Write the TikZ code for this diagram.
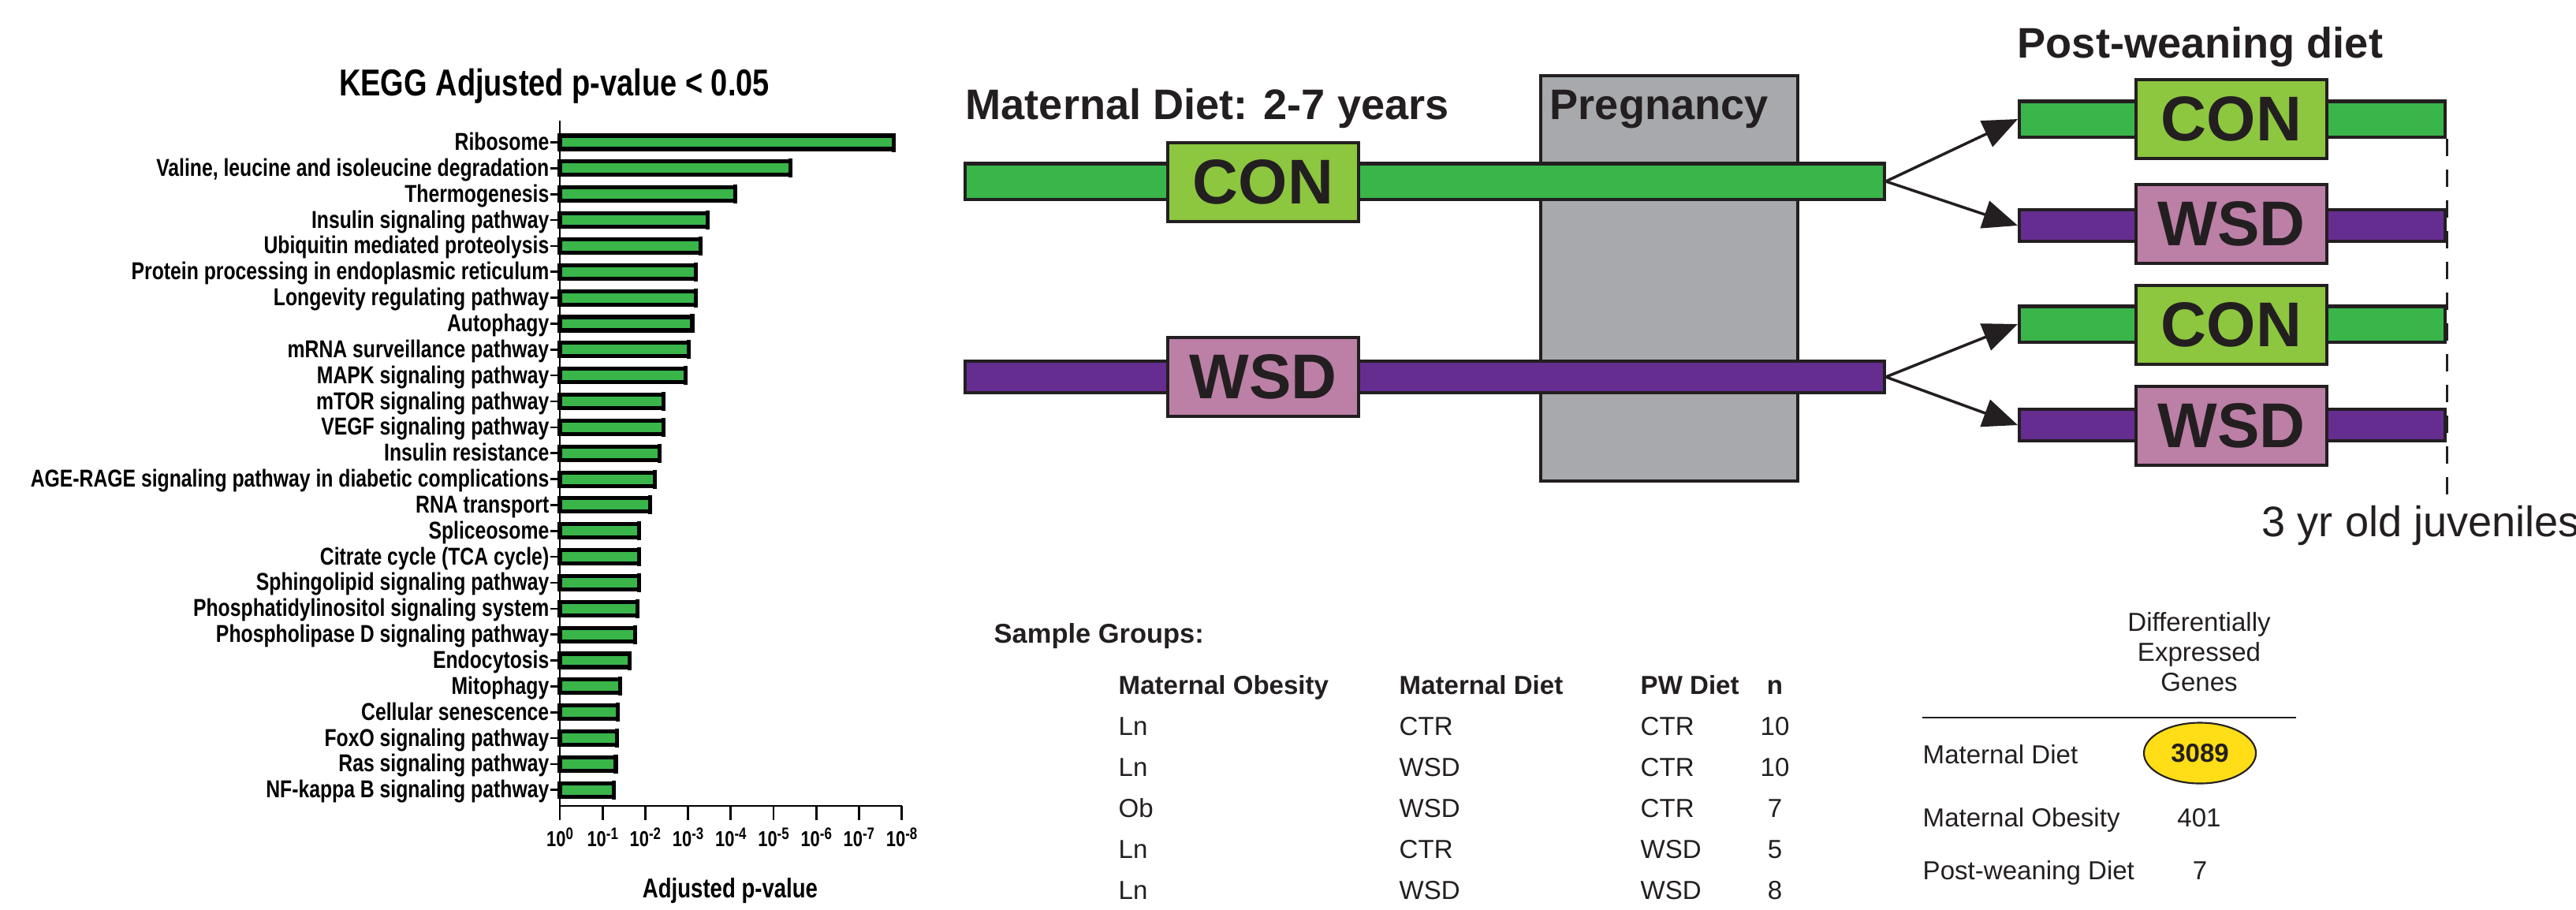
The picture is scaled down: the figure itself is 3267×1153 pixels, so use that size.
\documentclass[tikz,border=0pt]{standalone}
\usepackage{fontspec}
\setmainfont{Liberation Sans}
\newfontfamily\narrowfont[FakeStretch=0.8]{Liberation Sans}
\usetikzlibrary{arrows.meta,shapes.geometric}
\definecolor{BarGreen}{HTML}{39B54A}
\definecolor{ConGreen}{HTML}{8DC63F}
\definecolor{WsdPurple}{HTML}{662D91}
\definecolor{WsdPink}{HTML}{BC7FA6}
\definecolor{PregGray}{HTML}{A7A9AC}
\definecolor{Ink}{HTML}{231F20}
\definecolor{GeneYellow}{HTML}{FFDD17}
\newcommand{\pexp}[1]{10\raisebox{0.32em}{\fontsize{6}{6}\selectfont #1}}

\begin{document}
\begin{tikzpicture}[x=0.01cm, y=-0.01cm,
  klabel/.style={anchor=base east, inner sep=0, font=\narrowfont\bfseries\fontsize{8.8}{9}\selectfont},
  kbar/.style={draw=black, line width=1.45pt, fill=BarGreen},
  kaxis/.style={line width=0.75pt, black},
  ktick/.style={anchor=base, inner sep=0, font=\narrowfont\bfseries\fontsize{7.8}{8}\selectfont},
  ktitle/.style={anchor=base, inner sep=0, font=\narrowfont\bfseries\fontsize{13.5}{14}\selectfont},
  hdr/.style={anchor=base west, inner sep=0, text=Ink, font=\bfseries\fontsize{15.4}{16}\selectfont},
  gbar/.style={draw=Ink, line width=1.15pt, fill=BarGreen, minimum height=0.45cm, inner sep=0, anchor=west},
  pbar/.style={gbar, fill=WsdPurple, minimum height=0.40cm},
  dietbox/.style={draw=Ink, line width=1.15pt, minimum width=2.42cm, minimum height=1cm, inner sep=0, text=Ink, font=\bfseries\fontsize{22.8}{24}\selectfont},
  conbox/.style={dietbox, fill=ConGreen},
  wsdbox/.style={dietbox, fill=WsdPink},
  arr/.style={-{Triangle[length=0.44cm, width=0.36cm]}, line width=1pt, Ink},
  dashline/.style={Ink, line width=1pt, dash pattern=on 0.22cm off 0.17cm},
  sgtxt/.style={anchor=base west, inner sep=0, text=Ink, font=\fontsize{9.4}{10}\selectfont},
  sghead/.style={sgtxt, font=\bfseries\fontsize{9.4}{10}\selectfont},
  degtxt/.style={inner sep=0, text=Ink, font=\fontsize{9.4}{10.8}\selectfont}
]
\useasboundingbox (0,0) rectangle (3267,1153);

\node[ktitle] (ktitle) at (703,121) {KEGG Adjusted p-value < 0.05};
\foreach \lab/\val [count=\i from 0] in {
  Ribosome/7.82, {Valine, leucine and isoleucine degradation}/5.39, Thermogenesis/4.10,
  Insulin signaling pathway/3.46, Ubiquitin mediated proteolysis/3.29,
  Protein processing in endoplasmic reticulum/3.18, Longevity regulating pathway/3.18,
  Autophagy/3.10, mRNA surveillance pathway/3.01, MAPK signaling pathway/2.94,
  mTOR signaling pathway/2.42, VEGF signaling pathway/2.42, Insulin resistance/2.33,
  AGE-RAGE signaling pathway in diabetic complications/2.23, RNA transport/2.12,
  Spliceosome/1.85, Citrate cycle (TCA cycle)/1.85, Sphingolipid signaling pathway/1.85,
  Phosphatidylinositol signaling system/1.81, Phospholipase D signaling pathway/1.77,
  Endocytosis/1.63, Mitophagy/1.41, Cellular senescence/1.36, FoxO signaling pathway/1.33,
  Ras signaling pathway/1.31, NF-kappa B signaling pathway/1.27}{
  \pgfmathsetmacro\y{180.5+\i*32.85}
  \node[klabel] (kl\i) at (697,\y+10) {\lab};
  \draw[kaxis] (698,\y) -- (710,\y);
  \draw[kbar] (710,\y-8.5) rectangle (710+\val*54.2,\y+8.5);
  \draw[line width=1.45pt] (710+\val*54.2,\y-12) -- (710+\val*54.2,\y+12);
}
\draw[kaxis] (710,153) -- (710,1022) -- (1144,1022);
\foreach \e [count=\k from 0] in {0,-1,-2,-3,-4,-5,-6,-7,-8}{
  \draw[kaxis] (710+\k*54.2,1022) -- ++(0,18);
  \node[ktick] (tk\k) at (710+\k*54.2,1073) {\pexp{\e}};
}
\node[ktick, font=\narrowfont\bfseries\fontsize{9.8}{10}\selectfont] (kxlab) at (926,1138) {Adjusted p-value};

\node[draw=Ink, line width=1.15pt, fill=PregGray, minimum width=3.26cm, minimum height=5.14cm] (preg) at (2117,353) {};
\node[hdr] (pregtxt) at (1965,151) {Pregnancy};
\node[hdr] (mdtitle) at (1224,151) {Maternal Diet: 2-7 years};
\node[hdr] (pwtitle) at (2558,73) {Post-weaning diet};

\node[gbar, minimum width=11.65cm] (mcon) at (1222,230) {};
\node[pbar, minimum width=11.65cm] (mwsd) at (1222,478) {};
\node[conbox] (mconbox) at (1602,231) {CON};
\node[wsdbox] (mwsdbox) at (1602,478) {WSD};

\node[gbar, minimum width=5.4cm] (pw1) at (2559,151) {};
\node[pbar, minimum width=5.4cm] (pw2) at (2559,286) {};
\node[gbar, minimum width=5.4cm] (pw3) at (2559,411) {};
\node[pbar, minimum width=5.4cm] (pw4) at (2559,539) {};
\node[conbox] (pwbox1) at (2830,151) {CON};
\node[wsdbox] (pwbox2) at (2830,284) {WSD};
\node[conbox] (pwbox3) at (2830,412) {CON};
\node[wsdbox] (pwbox4) at (2830,540) {WSD};

\draw[arr] (mcon.east) -- (pw1.west);
\draw[arr] (mcon.east) -- (pw2.west);
\draw[arr] (mwsd.east) -- (pw3.west);
\draw[arr] (mwsd.east) -- (pw4.west);

\coordinate (dbot) at (3102,643);
\draw[dashline] (pw1.south east) -- (pw1.south east |- dbot);
\node[anchor=base west, inner sep=0, text=Ink, font=\fontsize{15.4}{16}\selectfont] (juv) at (2868,680) {3 yr old juveniles};

\node[sghead, font=\bfseries\fontsize{9.8}{10}\selectfont] (sg) at (1260,815) {Sample Groups:};
\node[sghead] (hmo) at (1418,880) {Maternal Obesity};
\node[sghead] (hmd) at (1774,880) {Maternal Diet};
\node[sghead] (hpw) at (2080,880) {PW Diet};
\node[sghead, anchor=base] (hn) at (2251,880) {n};
\foreach \mo/\md/\pw/\n [count=\r] in {Ln/CTR/CTR/10, Ln/WSD/CTR/10, Ob/WSD/CTR/7, Ln/CTR/WSD/5, Ln/WSD/WSD/8}{
  \pgfmathsetmacro\yy{880+\r*52}
  \node[sgtxt] (mo\r) at (1418,\yy) {\mo};
  \node[sgtxt] (md\r) at (1774,\yy) {\md};
  \node[sgtxt] (pw\r) at (2080,\yy) {\pw};
  \node[sgtxt, anchor=base] (n\r) at (2251,\yy) {\n};
}

\node[degtxt, align=center, anchor=north] (deghead) at (2789,776) {Differentially\\Expressed\\Genes};
\draw[line width=0.7pt, Ink] (2438,910) -- (2912,910);
\node[degtxt, anchor=base west] (degmd) at (2438,968) {Maternal Diet};
\node[ellipse, draw=Ink, line width=0.6pt, fill=GeneYellow, minimum width=1.42cm, minimum height=0.77cm, inner sep=0, font=\bfseries\fontsize{9.4}{10}\selectfont, text=Ink] (g3089) at (2790,955) {3089};
\node[degtxt, anchor=base west] (degmo) at (2438,1048) {Maternal Obesity};
\node[degtxt, anchor=base] (g401) at (2789,1048) {401};
\node[degtxt, anchor=base west] (degpw) at (2438,1115) {Post-weaning Diet};
\node[degtxt, anchor=base] (g7) at (2790,1115) {7};
\end{tikzpicture}
\end{document}
